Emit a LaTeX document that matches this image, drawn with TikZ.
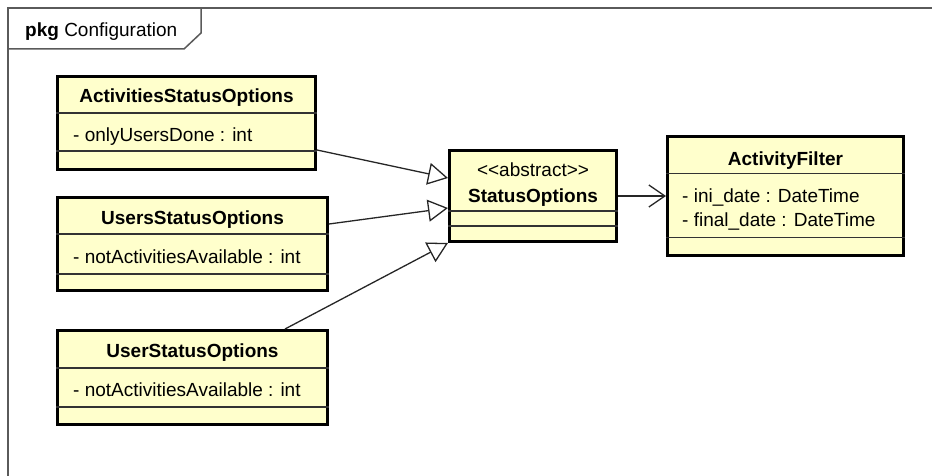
\documentclass[tikz,border=0pt]{standalone}
\usepackage{fontspec}
\setmainfont{Liberation Sans}
\usetikzlibrary{arrows.meta}
\definecolor{classfill}{RGB}{255,255,204}
\definecolor{framegray}{RGB}{90,90,90}

\begin{document}
\begin{tikzpicture}[x=1pt,y=-1pt]
\tikzstyle{every node}=[font=\fontsize{19}{23}\selectfont, inner sep=0pt];
\tikzstyle{classbox}=[draw=black, line width=3pt, fill=classfill, rectangle];
\tikzstyle{divider}=[line width=1.2pt, draw=black!80];
\tikzstyle{classname}=[anchor=base, font=\fontsize{19}{23}\selectfont\bfseries];
\tikzstyle{attr}=[anchor=base west];
\tikzstyle{generalization}=[line width=1.3pt, draw=black!85, -{Triangle[open,length=20pt,width=22pt]}];
\tikzstyle{association}=[line width=1.3pt, draw=black!85, -{Straight Barb[length=16pt,width=22pt]}];

\useasboundingbox (0,0) rectangle (932,476);

% package frame
\draw[framegray, line width=1.5pt] (8,476) -- (8,8) -- (932,8);
\draw[framegray, line width=1.5pt] (8,49) -- (184,49) -- (201,33) -- (201,8);
\node[anchor=base west] (pkg) at (25,37) {\textbf{pkg} Configuration};

% ActivitiesStatusOptions
\node[classbox, minimum width=258pt, minimum height=93pt] (asopt) at (186.5,123) {};
\draw[divider] ([yshift=-38pt]asopt.north west) -- ([yshift=-38pt]asopt.north east);
\draw[divider] ([yshift=-76pt]asopt.north west) -- ([yshift=-76pt]asopt.north east);
\node[classname] (asopt-name) at ([yshift=-28pt]asopt.north) {ActivitiesStatusOptions};
\node[attr] (asopt-attr) at ([xshift=17pt,yshift=-67pt]asopt.north west) {- onlyUsersDone : int};

% UsersStatusOptions
\node[classbox, minimum width=270pt, minimum height=93pt] (usopt) at (192.5,244) {};
\draw[divider] ([yshift=-38pt]usopt.north west) -- ([yshift=-38pt]usopt.north east);
\draw[divider] ([yshift=-78pt]usopt.north west) -- ([yshift=-78pt]usopt.north east);
\node[classname] (usopt-name) at ([yshift=-28pt]usopt.north) {UsersStatusOptions};
\node[attr] (usopt-attr) at ([xshift=17pt,yshift=-67pt]usopt.north west) {- notActivitiesAvailable : int};

% UserStatusOptions
\node[classbox, minimum width=270pt, minimum height=94pt] (uopt) at (192.5,377.5) {};
\draw[divider] ([yshift=-39pt]uopt.north west) -- ([yshift=-39pt]uopt.north east);
\draw[divider] ([yshift=-78pt]uopt.north west) -- ([yshift=-78pt]uopt.north east);
\node[classname] (uopt-name) at ([yshift=-28pt]uopt.north) {UserStatusOptions};
\node[attr] (uopt-attr) at ([xshift=17pt,yshift=-67pt]uopt.north west) {- notActivitiesAvailable : int};

% StatusOptions
\node[classbox, minimum width=167pt, minimum height=91pt] (sopt) at (533,196) {};
\draw[divider] ([yshift=-62pt]sopt.north west) -- ([yshift=-62pt]sopt.north east);
\draw[divider] ([yshift=-77pt]sopt.north west) -- ([yshift=-77pt]sopt.north east);
\node[anchor=base] (sopt-stereo) at ([yshift=-27pt]sopt.north) {{<}{<}abstract{>}{>}};
\node[classname] (sopt-name) at ([yshift=-53pt]sopt.north) {StatusOptions};

% ActivityFilter
\node[classbox, minimum width=236pt, minimum height=118pt] (filter) at (785.5,196) {};
\draw[divider] ([yshift=-38pt]filter.north west) -- ([yshift=-38pt]filter.north east);
\draw[divider] ([yshift=-102pt]filter.north west) -- ([yshift=-102pt]filter.north east);
\node[classname] (filter-name) at ([yshift=-30pt]filter.north) {ActivityFilter};
\node[attr] (filter-ini) at ([xshift=16pt,yshift=-67pt]filter.north west) {- ini\_date : DateTime};
\node[attr] (filter-final) at ([xshift=16pt,yshift=-91pt]filter.north west) {- final\_date : DateTime};

% connectors
\draw[generalization] ([yshift=-27pt]asopt.east) -- ([yshift=18pt]sopt.west);
\draw[generalization] ([yshift=20pt]usopt.east) -- ([yshift=-12pt]sopt.west);
\draw[generalization] ([xshift=92.5pt]uopt.north) -- (sopt.south west);
\draw[association] (sopt.east) -- (sopt.east -| filter.west);
\end{tikzpicture}
\end{document}
